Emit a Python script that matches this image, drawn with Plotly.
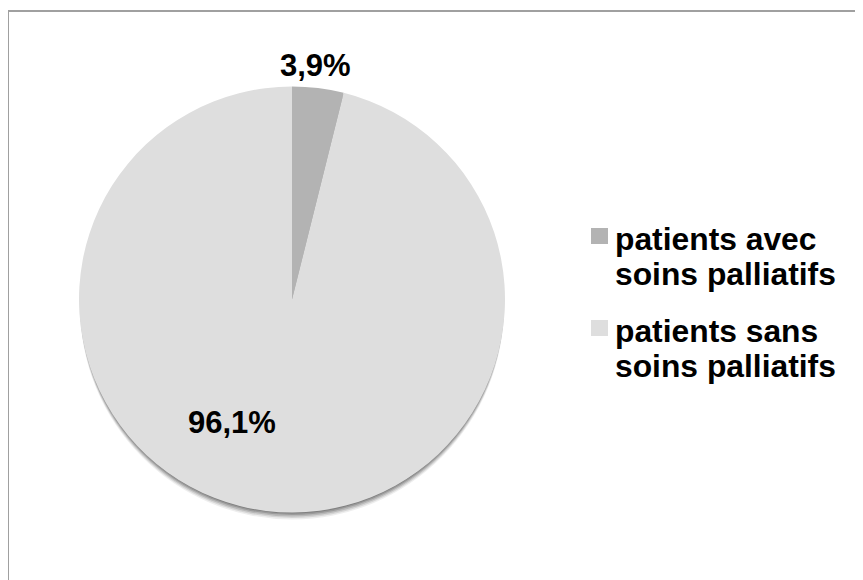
import math
import plotly.graph_objects as go

categories = ["patients avec soins palliatifs", "patients sans soins palliatifs"]
values = [3.9, 96.1]
colors = ["#b3b3b3", "#dedede"]

W, H = 863, 580
OFF = 8  # page body margin
cx, cy, R = 292, 299.5, 213  # pie centre / radius in px (screen)
FONT = "Liberation Sans, Arial, sans-serif"

def P(x, y):
    return (x - OFF) / W, 1 - (y - OFF) / H

x0, y0 = P(cx - R, cy + R)
x1, y1 = P(cx + R, cy - R)

fig = go.Figure()

# soft shadow below the pie
for off, op in [(7, 0.10), (5.5, 0.16), (4, 0.24), (2.5, 0.32), (1, 0.40)]:
    sx0, sy0 = P(cx - R + 1, cy + R + off)
    sx1, sy1 = P(cx + R - 1, cy - R + off)
    fig.add_shape(type="circle", xref="paper", yref="paper",
                  x0=sx0, y0=sy0, x1=sx1, y1=sy1,
                  fillcolor=f"rgba(90,90,90,{op})", line=dict(width=0), layer="below")

fig.add_trace(go.Pie(
    labels=categories,
    values=values,
    sort=False,
    direction="clockwise",
    rotation=0,
    marker=dict(colors=colors, line=dict(width=0)),
    textinfo="none",
    hoverinfo="label+percent",
    domain=dict(x=[x0, x1], y=[y0, y1]),
    showlegend=False,
))

# percentage labels (angle clockwise from 12 o'clock, radius factor)
label_pos = [(5.8, 1.108), (206.2, 0.64)]
total = sum(values)
for v, (ang, rf) in zip(values, label_pos):
    a = math.radians(ang)
    lx = cx + rf * R * math.sin(a)
    ly = cy - rf * R * math.cos(a)
    px, py = P(lx, ly + 1)
    fig.add_annotation(
        x=px, y=py, xref="paper", yref="paper",
        xanchor="center", yanchor="middle",
        text="<b>" + f"{v / total * 100:.1f}%".replace(".", ",") + "</b>",
        showarrow=False,
        font=dict(family=FONT, size=31, color="#000000"),
    )

# custom legend
sq_top = [228, 320]
line_centres = [[239, 274], [331, 366]]
for i, cat in enumerate(categories):
    words = cat.split(" ")
    lines = [" ".join(words[:2]), " ".join(words[2:])]
    qx0, qy0 = P(591, sq_top[i] + 16)
    qx1, qy1 = P(608, sq_top[i])
    fig.add_shape(type="rect", xref="paper", yref="paper",
                  x0=qx0, y0=qy0, x1=qx1, y1=qy1,
                  fillcolor=colors[i], line=dict(width=0))
    for ln, yc in zip(lines, line_centres[i]):
        ax, ay = P(613, yc)
        fig.add_annotation(
            x=ax, y=ay, xref="paper", yref="paper",
            xanchor="left", yanchor="middle",
            text=f"<b>{ln}</b>", showarrow=False,
            font=dict(family=FONT, size=31.8, color="#000000"),
        )

# chart-area border
bx0, by0 = P(8, 620)
bx1, by1 = P(900, 11)
fig.add_shape(type="rect", xref="paper", yref="paper",
              x0=bx0, y0=by0, x1=bx1, y1=by1,
              line=dict(color="#a0a0a0", width=2), fillcolor="rgba(0,0,0,0)", layer="below")

fig.update_layout(
    width=W, height=H,
    margin=dict(l=0, r=0, t=0, b=0),
    paper_bgcolor="white",
    plot_bgcolor="white",
    showlegend=False,
)

fig.write_html("out.html")
